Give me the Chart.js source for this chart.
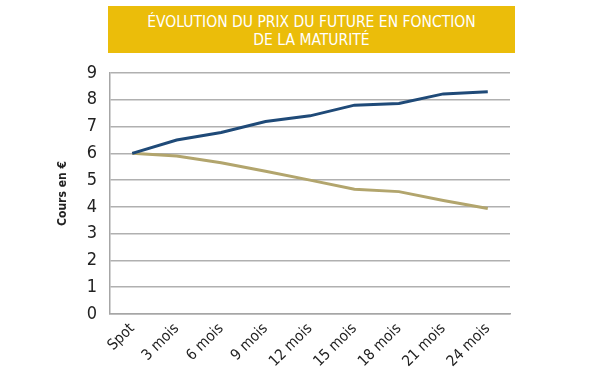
<!DOCTYPE html>
<html>
<head>
<meta charset="utf-8">
<script src="https://cdn.jsdelivr.net/npm/chart.js@4"></script>
<style>
    html, body { margin: 0; padding: 0; background: #fff; }
    #wrap { position: relative; width: 600px; height: 375px; }
    #title {
        position: absolute; left: 108px; top: 6px; width: 407px; height: 47px;
        background: #ebbd0a; color: #fff; text-align: center;
        font-family: 'DejaVu Sans Condensed', sans-serif; font-weight: 300;
        font-size: 15.5px; line-height: 18px; box-sizing: border-box; padding-top: 7px;
    }
    canvas { position: absolute; left: 0; top: 0; }
</style>
</head>
<body>
<div id="wrap">
    <canvas id="chart" width="600" height="375"></canvas>
    <div id="title">ÉVOLUTION DU PRIX DU FUTURE EN FONCTION<br>DE LA MATURITÉ</div>
</div>
<script>
const maturites = ['Spot', '3 mois', '6 mois', '9 mois', '12 mois', '15 mois', '18 mois', '21 mois', '24 mois'];
const prixHausse = [6.0, 6.5, 6.78, 7.19, 7.4, 7.8, 7.86, 8.22, 8.3];
const prixBaisse = [6.0, 5.9, 5.65, 5.33, 5.0, 4.66, 4.57, 4.24, 3.94];
const yTicks = [0, 1, 2, 3, 4, 5, 6, 7, 8, 9];

const fontName = "'DejaVu Sans Condensed', sans-serif";

new Chart(document.getElementById('chart').getContext('2d'), {
    type: 'line',
    data: {
        labels: maturites,
        datasets: [{
            label: 'Hausse',
            data: prixHausse,
            borderColor: '#1f4a78',
            borderWidth: 3,
            pointRadius: 0,
            tension: 0
        }, {
            label: 'Baisse',
            data: prixBaisse,
            borderColor: '#b2a56d',
            borderWidth: 3,
            pointRadius: 0,
            tension: 0
        }]
    },
    options: {
        responsive: false,
        animation: false,
        layout: { padding: { top: 73, right: 90, left: 56, bottom: 0 } },
        plugins: {
            legend: { display: false },
            tooltip: { enabled: false }
        },
        scales: {
            x: {
                offset: true,
                grid: { display: false, drawTicks: false },
                border: { display: true, color: '#a6a6a6', width: 1.5 },
                ticks: {
                    minRotation: 45,
                    maxRotation: 45,
                    padding: 6,
                    color: '#222',
                    font: { family: fontName, size: 15 }
                },
                afterFit: s => { s.height = 61; }
            },
            y: {
                min: 0,
                max: 9,
                afterBuildTicks: s => { s.ticks = yTicks.map(v => ({ value: v })); },
                grid: { color: '#b0b0b0', lineWidth: 1.5, drawTicks: false },
                border: { display: true, color: '#a6a6a6', width: 1.5 },
                ticks: {
                    padding: 13,
                    color: '#222',
                    font: { family: fontName, size: 18 }
                },
                title: {
                    display: true,
                    text: 'Cours en €',
                    color: '#222',
                    font: { family: fontName, size: 12, weight: 'bold' },
                    padding: { top: 0, bottom: 0 }
                },
                afterFit: s => { s.width = 54; }
            }
        }
    }
});
</script>
</body>
</html>
